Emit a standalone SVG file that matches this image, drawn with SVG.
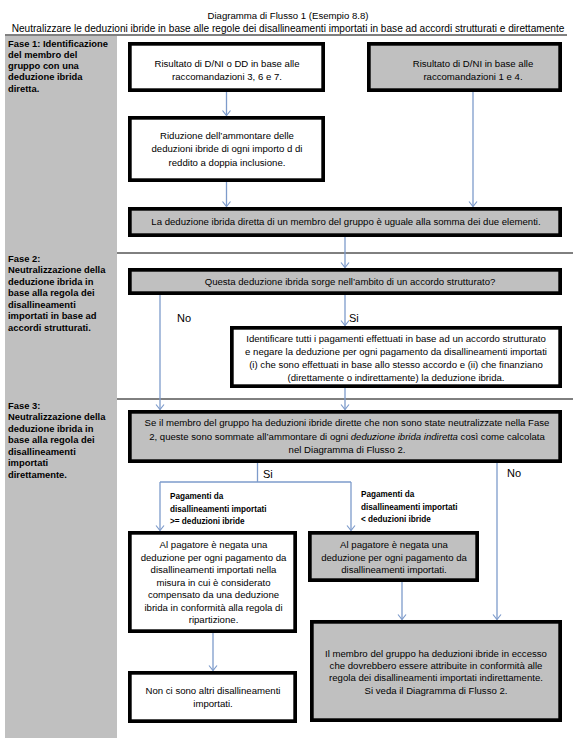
<svg xmlns="http://www.w3.org/2000/svg" width="576" height="747" viewBox="0 0 576 747">
<defs>
<style>
.box{stroke:#000;stroke-width:3.7}
.w{fill:#fff}
.g{fill:#c0c0c0}
.t{font-family:"Liberation Sans",Arial,sans-serif;font-size:9.6px;fill:#000}
.c{text-anchor:middle}
.ph{font-weight:bold;font-size:9.4px}
.bl{font-weight:bold;font-size:8.2px}
.yn{font-size:11px}
.sub{font-size:10.1px}
.sep{stroke:#000;stroke-width:1}
.conn{stroke:#7d9bcb;stroke-width:1.3;fill:none}
</style>
<marker id="ah" viewBox="0 0 6 10" refX="5.5" refY="5" markerWidth="6" markerHeight="10" markerUnits="userSpaceOnUse" orient="auto">
<path d="M0.5,1 L5.5,5 L0.5,9" fill="none" stroke="#7d9bcb" stroke-width="1.2"/>
</marker>
</defs>
<rect x="0" y="0" width="576" height="747" fill="#fff"/>

<g id="header">
<text class="t c" x="288" y="19">Diagramma di Flusso 1 (Esempio 8.8)</text>
<text class="t c sub" x="288" y="32">Neutralizzare le deduzioni ibride in base alle regole dei disallineamenti importati in base ad accordi strutturati e direttamente</text>
<line class="sep" x1="5" y1="35" x2="567" y2="35"/>
</g>

<g id="column">
<rect x="5" y="36" width="112" height="702" fill="#c0c0c0"/>
<line class="sep" x1="117" y1="253" x2="573" y2="253"/>
<line class="sep" x1="117" y1="399" x2="573" y2="399"/>
</g>

<g id="fase1">
<text class="t ph" x="8" y="46.5">Fase 1: Identificazione</text>
<text class="t ph" x="8" y="57.8">del membro del</text>
<text class="t ph" x="8" y="69.1">gruppo con una</text>
<text class="t ph" x="8" y="80.4">deduzione ibrida</text>
<text class="t ph" x="8" y="91.7">diretta.</text>
</g>
<g id="fase2">
<text class="t ph" x="8" y="261.5">Fase 2:</text>
<text class="t ph" x="8" y="273">Neutralizzazione della</text>
<text class="t ph" x="8" y="284.5">deduzione ibrida in</text>
<text class="t ph" x="8" y="296">base alla regola dei</text>
<text class="t ph" x="8" y="307.5">disallineamenti</text>
<text class="t ph" x="8" y="319">importati in base ad</text>
<text class="t ph" x="8" y="330.5">accordi strutturati.</text>
</g>
<g id="fase3">
<text class="t ph" x="8" y="408.5">Fase 3:</text>
<text class="t ph" x="8" y="420">Neutralizzazione della</text>
<text class="t ph" x="8" y="431.5">deduzione ibrida in</text>
<text class="t ph" x="8" y="443">base alla regola dei</text>
<text class="t ph" x="8" y="454.5">disallineamenti</text>
<text class="t ph" x="8" y="466">importati</text>
<text class="t ph" x="8" y="477.5">direttamente.</text>
</g>

<g id="connectors">
<line class="conn" x1="226.5" y1="92" x2="226.5" y2="115.5" marker-end="url(#ah)"/>
<line class="conn" x1="226.5" y1="182" x2="226.5" y2="206.5" marker-end="url(#ah)"/>
<line class="conn" x1="473" y1="92" x2="473" y2="206.5" marker-end="url(#ah)"/>
<line class="conn" x1="345" y1="237" x2="345" y2="267.5" marker-end="url(#ah)"/>
<line class="conn" x1="160" y1="295" x2="160" y2="409.5" marker-end="url(#ah)"/>
<line class="conn" x1="345" y1="295" x2="345" y2="325.5" marker-end="url(#ah)"/>
<line class="conn" x1="345" y1="388" x2="345" y2="409.5" marker-end="url(#ah)"/>
<line class="conn" x1="257.5" y1="463" x2="257.5" y2="482"/>
<line class="conn" x1="160" y1="482" x2="351" y2="482"/>
<line class="conn" x1="160" y1="482" x2="160" y2="530.5" marker-end="url(#ah)"/>
<line class="conn" x1="351" y1="482" x2="351" y2="530.5" marker-end="url(#ah)"/>
<line class="conn" x1="497" y1="463" x2="497" y2="619.5" marker-end="url(#ah)"/>
<line class="conn" x1="402" y1="582" x2="402" y2="619.5" marker-end="url(#ah)"/>
<line class="conn" x1="213" y1="633" x2="213" y2="670.5" marker-end="url(#ah)"/>
</g>

<g id="labels">
<text class="t yn" x="177" y="322">No</text>
<text class="t yn" x="349" y="322">Si</text>
<text class="t yn" x="263" y="477.5">Si</text>
<text class="t yn" x="507" y="477">No</text>
<text class="t bl" x="170" y="499">Pagamenti da</text>
<text class="t bl" x="170" y="511.5">disallineamenti importati</text>
<text class="t bl" x="170" y="524">&gt;= deduzioni ibride</text>
<text class="t bl" x="361" y="497">Pagamenti da</text>
<text class="t bl" x="361" y="509.5">disallineamenti importati</text>
<text class="t bl" x="361" y="522">&lt; deduzioni ibride</text>
</g>

<g id="nodeA">
<rect class="box w" x="129.85" y="43.85" width="193.3" height="46.3"/>
<text class="t c" x="227" y="66.6">Risultato di D/NI o DD in base alle</text>
<text class="t c" x="227" y="80">raccomandazioni 3, 6 e 7.</text>
</g>
<g id="nodeB">
<rect class="box g" x="368.85" y="43.85" width="191.3" height="46.3"/>
<text class="t c" x="473" y="66.6">Risultato di D/NI in base alle</text>
<text class="t c" x="473" y="80">raccomandazioni 1 e 4.</text>
</g>
<g id="nodeC">
<rect class="box w" x="129.85" y="117.85" width="193.3" height="62.3"/>
<text class="t c" x="227" y="139">Riduzione dell’ammontare delle</text>
<text class="t c" x="227" y="152.3">deduzioni ibride di ogni importo d di</text>
<text class="t c" x="227" y="165.6">reddito a doppia inclusione.</text>
</g>
<g id="nodeD">
<rect class="box g" x="129.85" y="208.85" width="430.3" height="26.3"/>
<text class="t c" x="346" y="225.3">La deduzione ibrida diretta di un membro del gruppo è uguale alla somma dei due elementi.</text>
</g>
<g id="nodeE">
<rect class="box g" x="129.85" y="269.85" width="430.3" height="23.3"/>
<text class="t c" x="350" y="284.5">Questa deduzione ibrida sorge nell’ambito di un accordo strutturato?</text>
</g>
<g id="nodeF">
<rect class="box w" x="231.85" y="327.85" width="328.3" height="58.3"/>
<text class="t c" x="396" y="342.3">Identificare tutti i pagamenti effettuati in base ad un accordo strutturato</text>
<text class="t c" x="396" y="355.3">e negare la deduzione per ogni pagamento da disallineamenti importati</text>
<text class="t c" x="396" y="368.3">(i) che sono effettuati in base allo stesso accordo e (ii) che finanziano</text>
<text class="t c" x="396" y="381.3">(direttamente o indirettamente) la deduzione ibrida.</text>
</g>
<g id="nodeG">
<rect class="box g" x="129.85" y="411.85" width="430.3" height="49.3"/>
<text class="t c" x="347" y="426.3">Se il membro del gruppo ha deduzioni ibride dirette che non sono state neutralizzate nella Fase</text>
<text class="t c" x="347" y="439.8">2, queste sono sommate all’ammontare di ogni <tspan font-style="italic">deduzione ibrida indiretta</tspan> così come calcolata</text>
<text class="t c" x="347" y="453.3">nel Diagramma di Flusso 2.</text>
</g>
<g id="nodeH">
<rect class="box w" x="129.85" y="532.85" width="165.3" height="98.3"/>
<text class="t c" x="213.5" y="548.3">Al pagatore è negata una</text>
<text class="t c" x="213.5" y="560.8">deduzione per ogni pagamento da</text>
<text class="t c" x="213.5" y="573.3">disallineamenti importati nella</text>
<text class="t c" x="213.5" y="585.8">misura in cui è considerato</text>
<text class="t c" x="213.5" y="598.3">compensato da una deduzione</text>
<text class="t c" x="213.5" y="610.8">ibrida in conformità alla regola di</text>
<text class="t c" x="213.5" y="623.3">ripartizione.</text>
</g>
<g id="nodeI">
<rect class="box g" x="309.85" y="532.85" width="167.3" height="47.3"/>
<text class="t c" x="394" y="548.3">Al pagatore è negata una</text>
<text class="t c" x="394" y="560.8">deduzione per ogni pagamento da</text>
<text class="t c" x="394" y="573.3">disallineamenti importati.</text>
</g>
<g id="nodeL">
<rect class="box w" x="129.85" y="672.85" width="165.3" height="48.3"/>
<text class="t c" x="213" y="694.3">Non ci sono altri disallineamenti</text>
<text class="t c" x="213" y="706.8">importati.</text>
</g>
<g id="nodeK">
<rect class="box g" x="311.85" y="621.85" width="248.3" height="98.3"/>
<text class="t c" x="436" y="656.6">Il membro del gruppo ha deduzioni ibride in eccesso</text>
<text class="t c" x="436" y="669">che dovrebbero essere attribuite in conformità alle</text>
<text class="t c" x="436" y="681.4">regola dei disallineamenti importati indirettamente.</text>
<text class="t c" x="436" y="693.8">Si veda il Diagramma di Flusso 2.</text>
</g>
</svg>
